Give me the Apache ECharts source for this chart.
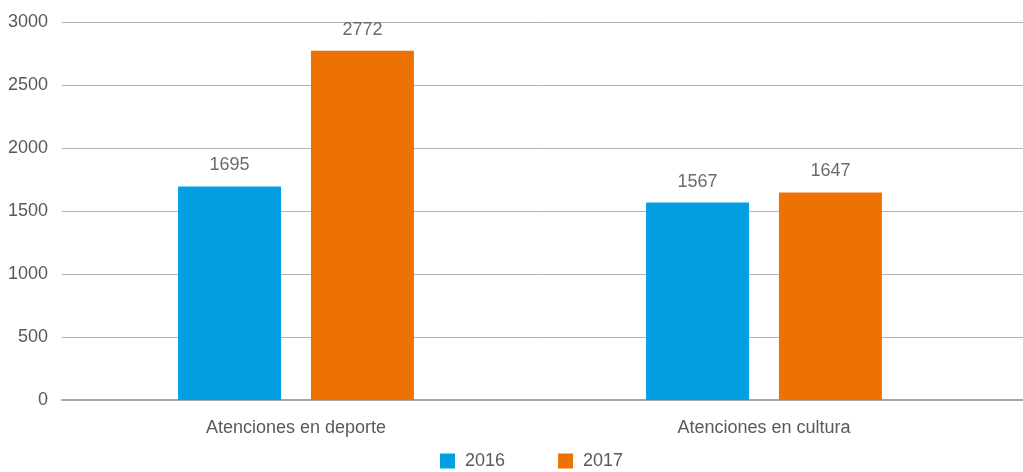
<!DOCTYPE html>
<html>
<head>
<meta charset="utf-8">
<script src="https://cdn.jsdelivr.net/npm/echarts@6/dist/echarts.min.js"></script>
<style>
  html, body { margin: 0; padding: 0; background: #fff; }
  #chart { width: 1023px; height: 472px; }
</style>
</head>
<body>
<div id="chart"></div>
<script>
// datos
const categories = ['Atenciones en deporte', 'Atenciones en cultura'];
const years = ['2016', '2017'];
const values2016 = [1695, 1567];
const values2017 = [2772, 1647];
const yTicks = { min: 0, max: 3000, interval: 500 };

const textColor = '#595959';
const font = 'Liberation Sans, Arial, sans-serif';

let chart = echarts.init(document.getElementById('chart'));
chart.setOption({
  animation: false,
  legend: {
    data: years,
    top: 447,
    left: 435,
    itemWidth: 15,
    itemHeight: 15,
    itemGap: 53,
    icon: 'rect',
    textStyle: { color: textColor, fontSize: 18, fontFamily: font, padding: [0, 0, 0, 5] }
  },
  grid: [
    // solo para las lineas de fondo y el eje (llegan al borde derecho)
    { left: 62, right: 0, top: 22, bottom: 72 },
    // barras
    { left: 62, right: 25, top: 22, bottom: 72 }
  ],
  xAxis: [
    {
      gridIndex: 0, type: 'category', data: categories,
      axisLine: { lineStyle: { color: '#a6a6a6', width: 2 } },
      axisTick: { show: false },
      axisLabel: { show: false }
    },
    {
      gridIndex: 1,
      type: 'category',
      data: categories,
      axisLine: { show: false },
      axisTick: { show: false },
      axisLabel: { color: textColor, fontSize: 18, fontFamily: font, margin: 19 }
    }
  ],
  yAxis: [
    {
      gridIndex: 0,
      type: 'value',
      min: yTicks.min, max: yTicks.max, interval: yTicks.interval,
      axisLine: { show: false },
      axisTick: { show: false },
      axisLabel: { color: textColor, fontSize: 18, fontFamily: font, margin: 14, formatter: v => String(v) },
      splitLine: { lineStyle: { color: '#b3b3b3', width: 1 } }
    },
    {
      gridIndex: 1,
      type: 'value',
      min: yTicks.min, max: yTicks.max, interval: yTicks.interval,
      show: false
    }
  ],
  series: [
    {
      name: years[0],
      type: 'bar',
      xAxisIndex: 1, yAxisIndex: 1,
      data: values2016,
      barWidth: 103,
      barGap: '29%',
      itemStyle: { color: '#02a0e2' },
      label: { show: true, position: 'top', distance: 12, color: '#6b6b6b', fontSize: 18, fontFamily: font }
    },
    {
      name: years[1],
      type: 'bar',
      xAxisIndex: 1, yAxisIndex: 1,
      data: values2017,
      barWidth: 103,
      barGap: '29%',
      itemStyle: { color: '#ee7202' },
      label: { show: true, position: 'top', distance: 12, color: '#6b6b6b', fontSize: 18, fontFamily: font }
    }
  ]
});
</script>
</body>
</html>
